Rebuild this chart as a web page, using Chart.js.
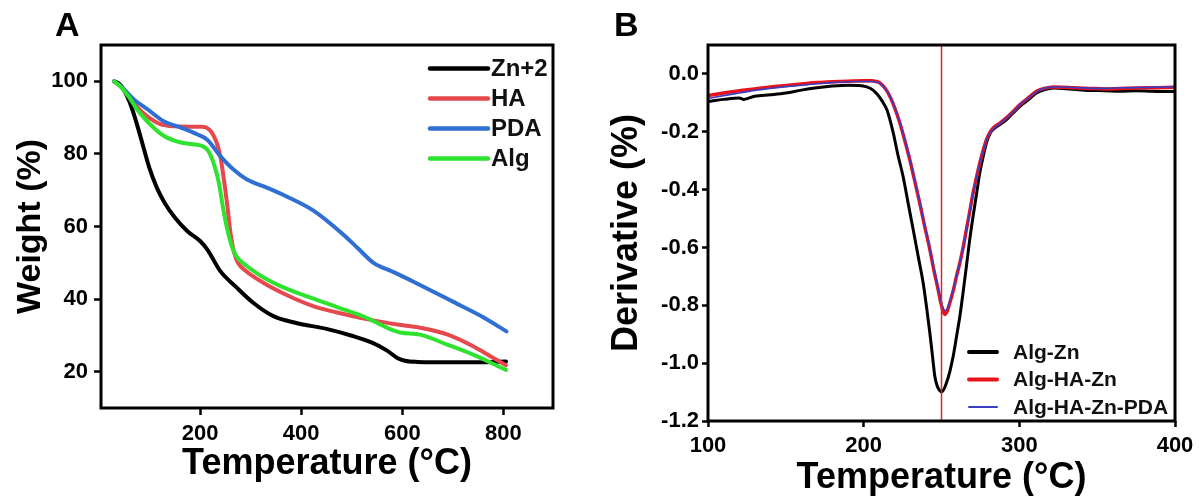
<!DOCTYPE html>
<html><head><meta charset="utf-8">
<script src="https://cdn.jsdelivr.net/npm/chart.js@4.4.1/dist/chart.umd.min.js"></script>
<style>
html,body{margin:0;padding:0;background:#fff;width:1204px;height:504px;overflow:hidden}
canvas{position:absolute;top:0}
#ca{left:0}
#cb{left:600px}
</style></head><body>
<canvas id="ca" width="600" height="504"></canvas>
<canvas id="cb" width="604" height="504"></canvas>
<script>
// ---------- Panel A data (TGA weight, %) ----------
const labelsA = ['Zn+2', 'HA', 'PDA', 'Alg'];
const zn2T = [30, 40, 50, 60, 70, 80, 90, 100, 115, 130, 150, 175, 200, 215, 240, 270, 305, 345, 390, 450, 500, 540, 570, 590, 605, 630, 700, 760, 805];
const zn2W = [100, 99.3, 97.5, 94.5, 90.5, 85.8, 80.8, 76, 70.5, 66.5, 62.5, 58.7, 56, 53.5, 47.7, 43.5, 39, 35.3, 33.4, 31.8, 29.9, 28, 25.8, 23.8, 23, 22.7, 22.6, 22.6, 22.8];
const haT = [30, 45, 60, 75, 95, 120, 150, 180, 205, 218, 226, 233, 240, 247, 254, 260, 267, 275, 290, 325, 370, 425, 490, 540, 590, 635, 690, 740, 775, 805];
const haW = [100, 98.4, 95.8, 93, 90.4, 88.3, 87.6, 87.5, 87.5, 86.7, 85.2, 83, 79.4, 73, 65.6, 58.3, 53, 50, 47.8, 44.5, 41.2, 38, 35.7, 34.2, 33, 32.1, 30.2, 27, 24.2, 21.8];
const pdaT = [30, 45, 69, 96, 128, 161, 194, 214, 240, 266, 292, 332, 372, 425, 483, 512, 543, 580, 622, 700, 760, 806];
const pdaW = [100, 98.4, 95, 92.3, 89, 87.3, 85.4, 83.9, 79.4, 75.7, 73, 70.7, 68.2, 64.3, 57.8, 54, 50, 47.6, 44.8, 39.3, 35, 31.1];
const algT = [30, 45, 60, 75, 100, 128, 160, 190, 205, 214, 222, 230, 237, 247, 257, 266, 275, 290, 306, 330, 360, 410, 475, 530, 570, 596, 635, 690, 740, 805];
const algW = [100, 98.2, 95.5, 92.3, 88.3, 85, 83.2, 82.6, 82.1, 81.2, 79.2, 76, 72.1, 63.8, 57.3, 53.3, 51.2, 49.4, 47.7, 45.6, 43.5, 40.8, 37.6, 34.8, 32.1, 30.8, 30.2, 27.4, 24.7, 20.5];
const ticksAX = [200, 400, 600, 800];
const ticksAY = [20, 40, 60, 80, 100];

// ---------- Panel B data (DTG derivative, %) ----------
const labelsB = ['Alg-Zn', 'Alg-HA-Zn', 'Alg-HA-Zn-PDA'];
const algZnT = [100, 110, 120, 123, 130, 140, 150, 160, 170, 180, 190, 197, 202, 206, 209, 212, 215, 219, 222, 225.3, 228.5, 231.8, 235, 238.2, 240.5, 242.5, 244.2, 245.7, 247.3, 248.9, 250, 251, 252, 253.2, 255.3, 257.5, 259.6, 261.8, 264, 266, 268, 270.3, 272.5, 274.6, 276.8, 278.9, 281, 283.2, 287.5, 291.8, 296, 300.4, 305.7, 311, 316, 322, 328, 335, 345, 355, 365, 375, 385, 395, 400];
const algZnD = [-0.095, -0.088, -0.083, -0.088, -0.077, -0.072, -0.066, -0.056, -0.048, -0.042, -0.039, -0.040, -0.045, -0.056, -0.072, -0.095, -0.125, -0.204, -0.28, -0.354, -0.445, -0.538, -0.63, -0.722, -0.81, -0.895, -0.975, -1.045, -1.08, -1.095, -1.1, -1.095, -1.085, -1.068, -1.03, -0.976, -0.91, -0.838, -0.75, -0.665, -0.578, -0.492, -0.415, -0.342, -0.285, -0.238, -0.208, -0.192, -0.175, -0.158, -0.135, -0.112, -0.09, -0.066, -0.055, -0.049, -0.05, -0.053, -0.057, -0.058, -0.06, -0.058, -0.06, -0.061, -0.06];
const algHaZnT = [100, 110, 120, 130, 140, 150, 160, 170, 180, 190, 200, 205, 208, 210.4, 213.5, 216.8, 220, 223.2, 226.4, 229.6, 232.8, 236, 239.2, 242.5, 245.1, 247.8, 249.5, 251, 252.3, 253.5, 254.3, 257.5, 259.6, 261.8, 264, 266, 268.2, 270.3, 272.5, 274.6, 276.8, 278.9, 281, 283.2, 287.5, 291.8, 296, 300.4, 305.7, 311, 316, 322, 328, 335, 345, 355, 365, 375, 385, 395, 400];
const algHaZnD = [-0.075, -0.066, -0.058, -0.052, -0.045, -0.040, -0.035, -0.030, -0.027, -0.025, -0.024, -0.024, -0.026, -0.031, -0.048, -0.077, -0.118, -0.169, -0.23, -0.296, -0.37, -0.446, -0.527, -0.607, -0.678, -0.745, -0.79, -0.82, -0.832, -0.822, -0.81, -0.75, -0.70, -0.653, -0.597, -0.538, -0.474, -0.411, -0.357, -0.308, -0.264, -0.227, -0.203, -0.187, -0.17, -0.151, -0.13, -0.106, -0.083, -0.06, -0.05, -0.045, -0.046, -0.048, -0.05, -0.052, -0.05, -0.049, -0.048, -0.047, -0.046];
const algHaZnPdaT = [100, 110, 120, 130, 140, 150, 160, 170, 180, 190, 200, 205, 208, 210.4, 213.5, 216.8, 220, 223.2, 226.4, 229.6, 232.8, 236, 239.2, 242.5, 245.1, 247.8, 249.5, 251.2, 252.5, 253.7, 254.5, 257.5, 259.6, 261.8, 264, 266, 268.2, 270.3, 272.5, 274.6, 276.8, 278.9, 281, 283.2, 287.5, 291.8, 296, 300.4, 305.7, 311, 316, 322, 328, 335, 345, 355, 365, 375, 385, 395, 400];
const algHaZnPdaD = [-0.085, -0.075, -0.066, -0.057, -0.050, -0.044, -0.039, -0.034, -0.030, -0.027, -0.026, -0.026, -0.028, -0.033, -0.049, -0.076, -0.115, -0.165, -0.226, -0.292, -0.366, -0.442, -0.522, -0.602, -0.672, -0.737, -0.782, -0.812, -0.818, -0.812, -0.80, -0.745, -0.697, -0.652, -0.597, -0.54, -0.476, -0.413, -0.359, -0.31, -0.266, -0.229, -0.205, -0.189, -0.172, -0.153, -0.131, -0.107, -0.084, -0.061, -0.05, -0.045, -0.045, -0.047, -0.049, -0.05, -0.048, -0.047, -0.046, -0.045, -0.044];
const markerB = [250];
const ticksBX = [100, 200, 300, 400];
const ticksBY = [-1.2, -1.0, -0.8, -0.6, -0.4, -0.2, 0.0];

// ---------- helpers ----------
const FONT = "'Liberation Sans', Arial, Helvetica, sans-serif";
Chart.defaults.font.family = FONT;
Chart.defaults.color = '#000';
const pts = (xs, ys) => xs.map((x, i) => ({x: x, y: ys[i]}));

const framePlugin = {
  id: 'frame',
  afterDraw(chart) {
    const {ctx, chartArea: a} = chart;
    ctx.save();
    ctx.lineWidth = 3;
    ctx.strokeStyle = '#000';
    ctx.strokeRect(a.left, a.top, a.right - a.left, a.bottom - a.top);
    ctx.restore();
  }
};
const inLegend = {
  id: 'inLegend',
  afterDraw(chart, args, o) {
    const ctx = chart.ctx, a = chart.chartArea;
    ctx.save();
    ctx.font = 'bold ' + o.size + 'px ' + FONT;
    ctx.textBaseline = 'middle';
    ctx.textAlign = 'left';
    let k = 0;
    chart.data.datasets.forEach((ds) => {
      if (ds.noLegend) return;
      const y = a.top + o.y + k * o.gap;
      ctx.strokeStyle = ds.borderColor;
      ctx.lineWidth = o.lw[k];
      ctx.lineCap = 'round';
      ctx.beginPath();
      ctx.moveTo(a.left + o.x, y);
      ctx.lineTo(a.left + o.x + o.len, y);
      ctx.stroke();
      ctx.fillStyle = '#111';
      ctx.fillText(ds.label, a.left + o.x + o.len + o.textGap, y + 1);
      k++;
    });
    ctx.restore();
  }
};
const panelLabel = {
  id: 'panelLabel',
  afterDraw(chart, args, o) {
    const ctx = chart.ctx;
    ctx.save();
    ctx.font = 'bold 34px ' + FONT;
    ctx.fillStyle = '#000';
    ctx.textBaseline = 'alphabetic';
    ctx.fillText(o.text, o.x, o.y);
    ctx.restore();
  }
};

function axis(cfg) {
  return {
    type: 'linear',
    min: cfg.min, max: cfg.max,
    afterBuildTicks: s => { s.ticks = cfg.ticks.map(v => ({value: v})); },
    afterFit: cfg.fit,
    ticks: {
      font: {size: 22, weight: 'bold'}, color: '#000', padding: cfg.pad,
      maxRotation: 0, autoSkip: false,
      callback: cfg.fmt || (v => String(v))
    },
    grid: {drawOnChartArea: false, drawTicks: true, tickLength: cfg.tl, tickWidth: 2.5, tickColor: '#000'},
    border: {display: false},
    title: {display: true, text: cfg.title, color: '#000', font: {size: cfg.tsize, weight: 'bold'}, padding: cfg.tpad}
  };
}

// ---------- Chart A ----------
const line = (label, xs, ys, color, w, order) => ({
  label: label, data: pts(xs, ys), borderColor: color, backgroundColor: color,
  borderWidth: w, pointRadius: 0, cubicInterpolationMode: 'monotone', fill: false,
  order: order, borderCapStyle: 'round', borderJoinStyle: 'round'
});

new Chart(document.getElementById('ca'), {
  type: 'line',
  data: {datasets: [
    line(labelsA[0], zn2T, zn2W, '#000000', 4, 4),
    line(labelsA[1], haT, haW, '#e5484d', 4, 3),
    line(labelsA[2], pdaT, pdaW, '#2f6fd3', 4, 2),
    line(labelsA[3], algT, algW, '#2fe22f', 4, 1)
  ]},
  options: {
    responsive: false, animation: false, devicePixelRatio: 1,
    layout: {padding: {left: 0, top: 45, right: 47, bottom: 0}},
    plugins: {
      legend: {display: false}, tooltip: {enabled: false},
      inLegend: {x: 329, y: 23.5, gap: 30, len: 58, textGap: 3, size: 24, lw: [4.5, 4.5, 4.5, 4.5]},
      panelLabel: {text: 'A', x: 55, y: 36}
    },
    scales: {
      x: axis({min: 4, max: 898, ticks: ticksAX, fit: s => { s.height = 96; }, pad: 6, tl: 7,
               title: 'Temperature (°C)', tsize: 36, tpad: {top: 0, bottom: 18}}),
      y: axis({min: 10, max: 110, ticks: ticksAY, fit: s => { s.width = 101; }, pad: 6, tl: 7,
               title: 'Weight (%)', tsize: 34, tpad: {top: 10, bottom: 0}})
    }
  },
  plugins: [framePlugin, inLegend, panelLabel]
});

// ---------- Chart B ----------
const vline = {
  label: 'marker', noLegend: true,
  data: [{x: markerB[0], y: 0.1}, {x: markerB[0], y: -1.2}],
  borderColor: '#d42a2a', borderWidth: 1.5, pointRadius: 0, order: 0
};
new Chart(document.getElementById('cb'), {
  type: 'line',
  data: {datasets: [
    line(labelsB[0], algZnT, algZnD, '#000000', 3, 4),
    line(labelsB[1], algHaZnT, algHaZnD, '#e8141c', 3.5, 3),
    line(labelsB[2], algHaZnPdaT, algHaZnPdaD, '#3b3bc4', 1.6, 2),
    vline
  ]},
  options: {
    responsive: false, animation: false, devicePixelRatio: 1,
    layout: {padding: {left: 0, top: 45, right: 29, bottom: 0}},
    plugins: {
      legend: {display: false}, tooltip: {enabled: false},
      inLegend: {x: 261, y: 307, gap: 27.5, len: 28, textGap: 16, size: 21, lw: [4, 4, 2]},
      panelLabel: {text: 'B', x: 14, y: 36}
    },
    scales: {
      x: axis({min: 100, max: 400, ticks: ticksBX, fit: s => { s.height = 83; }, pad: 6, tl: 6,
               title: 'Temperature (°C)', tsize: 36, tpad: {top: 0, bottom: 4}}),
      y: axis({min: -1.2, max: 0.1, ticks: ticksBY, fit: s => { s.width = 108; }, pad: 3, tl: 6,
               fmt: v => (Math.abs(v) < 1e-9 ? 0 : v).toFixed(1),
               title: 'Derivative (%)', tsize: 36, tpad: {top: 5, bottom: 0}})
    }
  },
  plugins: [framePlugin, inLegend, panelLabel]
});
</script>
</body></html>
